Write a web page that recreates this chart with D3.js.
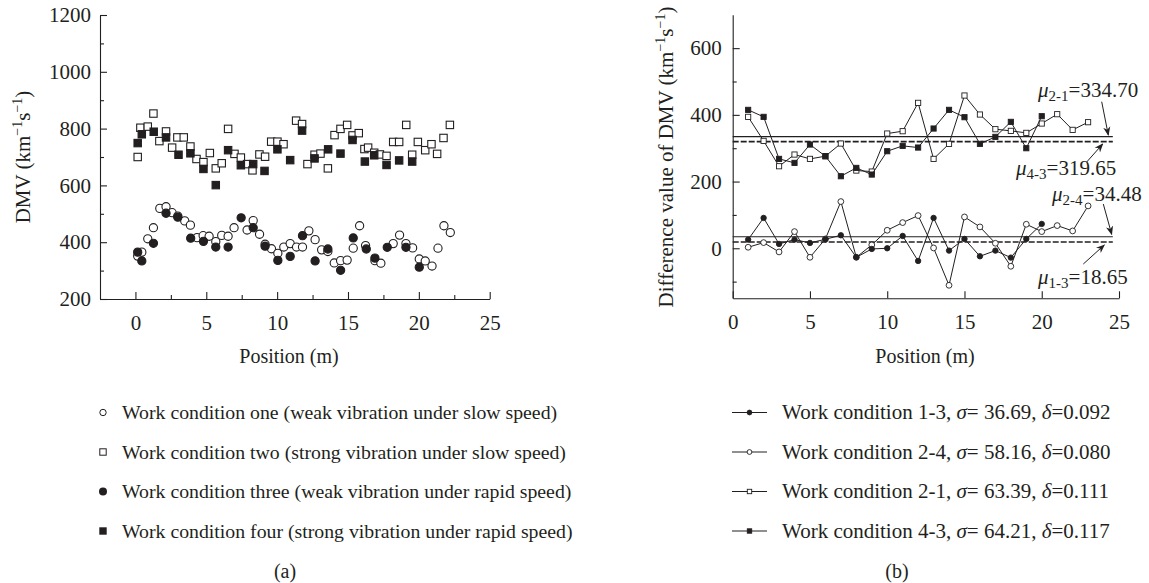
<!DOCTYPE html>
<html><head><meta charset="utf-8">
<script src="https://cdn.jsdelivr.net/npm/d3@7"></script>
<style>
body{margin:0;background:#fff}
svg{display:block}
text{font-family:"Liberation Serif","Times New Roman",serif;fill:#231f20}
</style>
</head><body>
<svg id="c" width="1149" height="583"></svg>
<script>
// ---------- DATA (left panel: DMV vs position) ----------
const posOne = [0.16,0.45,0.87,1.27,1.72,2.16,2.59,2.99,3.48,3.88,4.35,4.78,5.2,5.67,6.09,6.54,6.96,7.88,8.31,8.76,9.15,9.6,10.05,10.47,10.92,11.37,11.79,12.24,12.68,13.14,13.58,14.03,14.48,14.94,15.37,15.82,16.24,16.9,17.32,18.19,18.64,19.09,19.56,20.03,20.45,20.93,21.35,21.77,22.22];
const dmvOne = [351,365,412,451,519,525,504,492,475,460,416,423,421,402,424,421,451,443,476,428,393,377,361,383,395,383,383,440,409,373,367,327,335,337,379,458,388,335,326,395,425,395,380,341,334,316,379,458,434];
const posTwo = [0.16,0.35,0.87,1.27,1.69,2.16,2.59,2.96,3.41,3.88,4.31,4.8,5.25,5.67,6.09,6.54,6.99,7.44,7.88,8.26,8.75,9.15,9.58,10.02,10.45,11.34,11.76,12.14,12.64,13.06,13.58,14.05,14.47,14.94,15.32,15.76,16.16,16.42,16.85,17.25,17.72,18.19,18.61,19.11,19.53,19.93,20.45,20.89,21.29,21.74,22.19];
const dmvTwo = [700,803,807,853,756,790,733,769,769,737,693,682,714,660,678,799,711,698,675,653,709,701,754,754,745,828,816,675,708,712,660,777,799,813,776,784,728,733,715,709,704,753,753,813,708,753,724,745,711,767,813];
const posThree = [0.16,0.45,1.27,2.16,2.99,3.9,4.8,5.67,6.54,7.46,8.31,9.15,10.05,10.92,11.79,12.68,13.58,14.48,15.37,16.29,16.9,17.77,19.09,20.03];
const dmvThree = [365,334,396,502,488,414,403,383,383,486,451,386,336,350,423,334,376,301,415,376,344,382,382,312];
const posFour = [0.16,0.45,1.29,2.16,3.04,3.88,4.8,5.67,6.54,7.44,8.31,9.11,10.02,10.92,11.76,12.64,13.6,14.47,15.32,16.19,16.85,17.72,18.61,19.53];
const dmvFour = [749,780,789,769,708,713,658,601,724,671,675,651,727,689,793,695,727,712,760,684,706,672,688,684];

const legendA = [
  "Work condition one (weak vibration under slow speed)",
  "Work condition two (strong vibration under slow speed)",
  "Work condition three (weak vibration under rapid speed)",
  "Work condition four (strong vibration under rapid speed)"
];
const xTicksA = [0,5,10,15,20,25];
const yTicksA = [200,400,600,800,1000,1200];

// ---------- DATA (right panel: differences) ----------
const posDiff = [1,2,3,4,5,6,7,8,9,10,11,12,13,14,15,16,17,18,19,20,21,22,23];
const diff13 = [26,91,13,26,16,27,39,-27,-2,0,37,-38,91,-7,28,-24,-7,-28,28,73];
const diff24 = [3,17,-11,50,-27,28,140,-27,10,54,77,98,1,-111,94,64,15,-54,72,50,68,52,127];
const diff21 = [394,322,246,281,268,276,314,233,230,344,351,436,268,313,458,401,357,352,346,374,402,355,378];
const diff43 = [415,394,268,256,311,276,216,241,221,291,307,302,359,415,393,313,334,379,300,396];
const meanNames = ["2-1","4-3","2-4","1-3"];
const meanValues = [334.70,319.65,34.48,18.65];
const legendB = [
  ["1-3","36.69","0.092"],
  ["2-4","58.16","0.080"],
  ["2-1","63.39","0.111"],
  ["4-3","64.21","0.117"]
];
const xTicksB = [0,5,10,15,20,25];
const yTicksB = [0,200,400,600];

// ---------- DRAW ----------
const ink = "#231f20";
const FS = 21;
const svg = d3.select("#c");

function axes(x, y, xMaj, xMin, yMaj, yMin, xPad, yPad){
  svg.append("g").attr("transform",`translate(0,${y.range()[0]})`)
    .call(d3.axisBottom(x).tickValues(xMaj).tickSize(-7).tickSizeOuter(0).tickPadding(xPad).tickFormat(d3.format("d")));
  if (xMin.length) svg.append("g").attr("transform",`translate(0,${y.range()[0]})`)
    .call(d3.axisBottom(x).tickValues(xMin).tickSize(-4).tickSizeOuter(0).tickFormat(""))
    .call(g=>g.select(".domain").remove());
  svg.append("g").attr("transform",`translate(${x.range()[0]},0)`)
    .call(d3.axisLeft(y).tickValues(yMaj).tickSize(-7).tickSizeOuter(0).tickPadding(yPad).tickFormat(d3.format("d")));
  svg.append("g").attr("transform",`translate(${x.range()[0]},0)`)
    .call(d3.axisLeft(y).tickValues(yMin).tickSize(-4).tickSizeOuter(0).tickFormat(""))
    .call(g=>g.select(".domain").remove());
  svg.selectAll(".domain").attr("stroke",ink).attr("stroke-width",1.1);
  svg.selectAll(".tick line").attr("stroke",ink).attr("stroke-width",1.1);
  svg.selectAll(".tick text").attr("font-size",FS).attr("font-family",'"Liberation Serif",serif').attr("fill",ink);
}

function unitLabel(g, prefix){
  const t = g.append("text").attr("font-size",FS).attr("text-anchor","middle");
  t.append("tspan").text(prefix+" (km");
  t.append("tspan").attr("dy",-8).attr("font-size",14).text("−1");
  t.append("tspan").attr("dy",8).text("s");
  t.append("tspan").attr("dy",-8).attr("font-size",14).text("−1");
  t.append("tspan").attr("dy",8).text(")");
  return t;
}

// ===== Panel (a) =====
const xA = d3.scaleLinear().domain([-2.5,25]).range([100,489.7]);
const yA = d3.scaleLinear().domain([200,1200]).range([299,15]);
axes(xA,yA,xTicksA,[2.5,7.5,12.5,17.5,22.5],yTicksA,[300,500,700,900,1100],16,9);

svg.append("text").attr("x",289).attr("y",363).attr("text-anchor","middle").attr("font-size",20).text("Position (m)");
unitLabel(svg.append("g").attr("transform","translate(30,157) rotate(-90)"),"DMV");

const R = 4.1, S = 7.4;
function circles(xs, ys, filled){
  svg.append("g").selectAll("circle").data(xs).join("circle")
    .attr("cx",(d)=>xA(d)).attr("cy",(d,i)=>yA(ys[i])).attr("r",R)
    .attr("fill",filled?ink:"#fff").attr("stroke",ink).attr("stroke-width",1.1);
}
function squares(xs, ys, filled){
  svg.append("g").selectAll("rect").data(xs).join("rect")
    .attr("x",(d)=>xA(d)-S/2).attr("y",(d,i)=>yA(ys[i])-S/2).attr("width",S).attr("height",S)
    .attr("fill",filled?ink:"#fff").attr("stroke",ink).attr("stroke-width",1.1);
}
squares(posTwo,dmvTwo,false);
circles(posOne,dmvOne,false);
squares(posFour,dmvFour,true);
circles(posThree,dmvThree,true);

// legend (a)
const legA = svg.append("g");
const legY = [419,458.5,498,537.5];
legendA.forEach((txt,i)=>{
  const cy = legY[i]-6.5;
  if(i===0) legA.append("circle").attr("cx",103).attr("cy",cy).attr("r",3.2).attr("fill","#fff").attr("stroke",ink);
  if(i===1) legA.append("rect").attr("x",99.8).attr("y",cy-3.2).attr("width",6.4).attr("height",6.4).attr("fill","#fff").attr("stroke",ink);
  if(i===2) legA.append("circle").attr("cx",103).attr("cy",cy).attr("r",4).attr("fill",ink);
  if(i===3) legA.append("rect").attr("x",99.3).attr("y",cy-3.7).attr("width",7.4).attr("height",7.4).attr("fill",ink);
  legA.append("text").attr("x",122).attr("y",legY[i]).attr("font-size",19.8).text(txt);
});
svg.append("text").attr("x",285).attr("y",578).attr("text-anchor","middle").attr("font-size",20).text("(a)");

// ===== Panel (b) =====
const xB = d3.scaleLinear().domain([0,25]).range([732.7,1119]);
const yB = d3.scaleLinear().domain([-150,700]).range([298.3,14.8]);
axes(xB,yB,xTicksB,[],yTicksB,[-100,100,300,500],16,11);

svg.append("text").attr("x",925).attr("y",363).attr("text-anchor","middle").attr("font-size",20).text("Position (m)");
unitLabel(svg.append("g").attr("transform","translate(673,157) rotate(-90)"),"Difference value of DMV");

// mean lines: upper of each pair solid, lower dashed
const meanEnd = 24.6;
meanValues.forEach((m,i)=>{
  svg.append("line").attr("x1",xB(0)).attr("x2",xB(meanEnd)).attr("y1",yB(m)).attr("y2",yB(m))
    .attr("stroke",ink).attr("stroke-width",(i%2===1)?1.6:1.1)
    .attr("stroke-dasharray", (i%2===1) ? "6,2" : null);
});

const line = d3.line().x((d,i)=>xB(posDiff[i])).y(d=>yB(d));
function series(data, kind){
  svg.append("path").datum(data).attr("d",line).attr("fill","none").attr("stroke",ink).attr("stroke-width",1);
  const g = svg.append("g");
  if(kind==="fc"||kind==="oc"){
    g.selectAll("circle").data(data).join("circle")
      .attr("cx",(d,i)=>xB(posDiff[i])).attr("cy",d=>yB(d)).attr("r",kind==="fc"?2.7:2.9)
      .attr("fill",kind==="fc"?ink:"#fff").attr("stroke",ink).attr("stroke-width",0.9);
  } else {
    const s=5.2;
    g.selectAll("rect").data(data).join("rect")
      .attr("x",(d,i)=>xB(posDiff[i])-s/2).attr("y",d=>yB(d)-s/2).attr("width",s).attr("height",s)
      .attr("fill",kind==="fs"?ink:"#fff").attr("stroke",ink).attr("stroke-width",0.9);
  }
}
series(diff21,"os");
series(diff43,"fs");
series(diff24,"oc");
series(diff13,"fc");

// mean labels + arrows
const labelPos = [[1038,97],[1016,175],[1052,201],[1038,284]];
const arrows = [[1101.7,101.7,1108.3,135],[1086.7,162,1102.7,144],[1103.3,204,1111.7,234.3],[1083.3,264,1104.3,245]];
svg.append("defs").append("marker").attr("id","ah").attr("viewBox","0 0 10 10").attr("refX",9).attr("refY",5)
  .attr("markerWidth",9).attr("markerHeight",9).attr("orient","auto").attr("markerUnits","userSpaceOnUse")
  .append("path").attr("d","M0,1 L10,5 L0,9 L3,5 Z").attr("fill",ink);
meanNames.forEach((n,i)=>{
  const t = svg.append("text").attr("x",labelPos[i][0]).attr("y",labelPos[i][1]).attr("font-size",FS);
  t.append("tspan").attr("font-style","italic").text("μ");
  t.append("tspan").attr("dy",4).attr("font-size",15).text(n);
  t.append("tspan").attr("dy",-4).text("="+meanValues[i].toFixed(2));
  const a = arrows[i];
  svg.append("line").attr("x1",a[0]).attr("y1",a[1]).attr("x2",a[2]).attr("y2",a[3])
    .attr("stroke",ink).attr("stroke-width",1).attr("marker-end","url(#ah)");
});

// legend (b)
const legBY = [419,458.5,498,537.5];
const kinds = ["fc","oc","os","fs"];
legendB.forEach((r,i)=>{
  const cy = legBY[i]-6.5;
  svg.append("line").attr("x1",732).attr("x2",767).attr("y1",cy).attr("y2",cy).attr("stroke",ink).attr("stroke-width",1);
  const k = kinds[i];
  if(k==="fc"||k==="oc") svg.append("circle").attr("cx",749.5).attr("cy",cy).attr("r",2.4)
      .attr("fill",k==="fc"?ink:"#fff").attr("stroke",ink).attr("stroke-width",0.9);
  else svg.append("rect").attr("x",747.3).attr("y",cy-2.2).attr("width",4.4).attr("height",4.4)
      .attr("fill",k==="fs"?ink:"#fff").attr("stroke",ink).attr("stroke-width",0.9);
  const t = svg.append("text").attr("x",782).attr("y",legBY[i]).attr("font-size",FS);
  t.append("tspan").text(`Work condition ${r[0]}, `);
  t.append("tspan").attr("font-style","italic").text("σ");
  t.append("tspan").text(`= ${r[1]}, `);
  t.append("tspan").attr("font-style","italic").text("δ");
  t.append("tspan").text(`=${r[2]}`);
});
svg.append("text").attr("x",897).attr("y",578).attr("text-anchor","middle").attr("font-size",20).text("(b)");
</script>
</body></html>
